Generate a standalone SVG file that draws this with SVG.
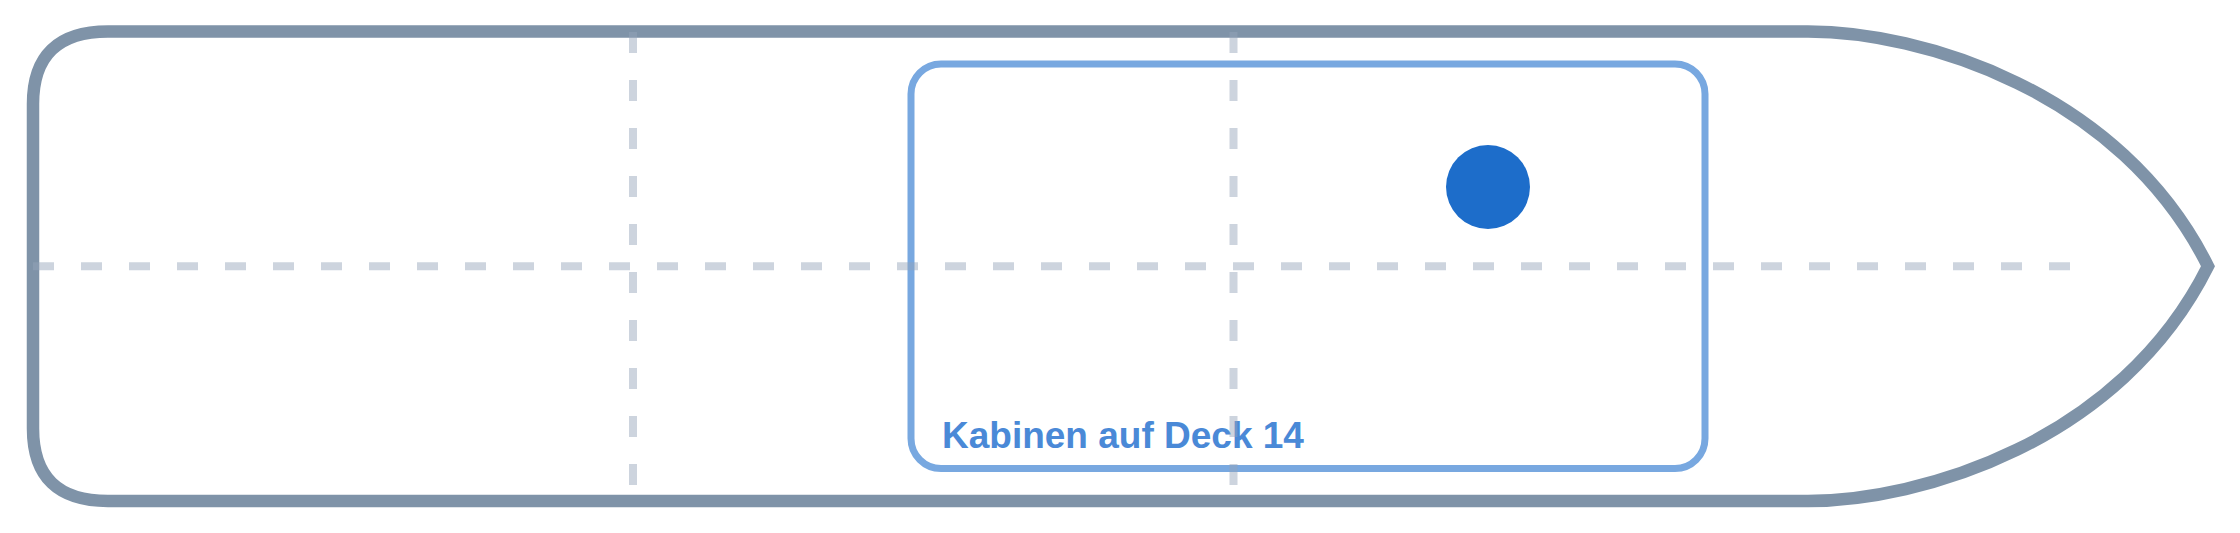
<svg xmlns="http://www.w3.org/2000/svg" width="2240" height="533" viewBox="0 0 2240 533">
  <style>
    .hull { fill: #ffffff; stroke: #7f93a8; stroke-width: 12.5; stroke-linejoin: miter; }
    .zone { fill: none; stroke: #78a8e0; stroke-width: 7; }
    .guide { fill: none; stroke: #94a3b8; stroke-opacity: 0.47; stroke-width: 8; stroke-dasharray: 21 27; }
    .label { font-family: "Liberation Sans", Arial, sans-serif; font-weight: bold; font-size: 37px; fill: #4a89d7; }
  </style>
  <g id="hull">
    <path class="hull" d="M 108 31.5 L 1808 31.5 C 1920 31.5 2120 90 2208 266.25 C 2120 442.5 1920 501 1808 501 L 108 501 Q 33 501 33 428.5 L 33 104 Q 33 31.5 108 31.5 Z"/>
  </g>
  <g id="cabins">
    <rect class="zone" x="911" y="64" width="794" height="404.5" rx="30" ry="30"/>
    <text class="label" x="942" y="448">Kabinen auf Deck 14</text>
  </g>
  <g id="marker">
    <circle cx="1488" cy="187" r="42" fill="#1d6dca"/>
  </g>
  <g id="guides">
    <path class="guide" d="M 33 266.25 H 2070"/>
    <path class="guide" d="M 633 32 V 501"/>
    <path class="guide" d="M 1233.5 32 V 501"/>
  </g>
</svg>
